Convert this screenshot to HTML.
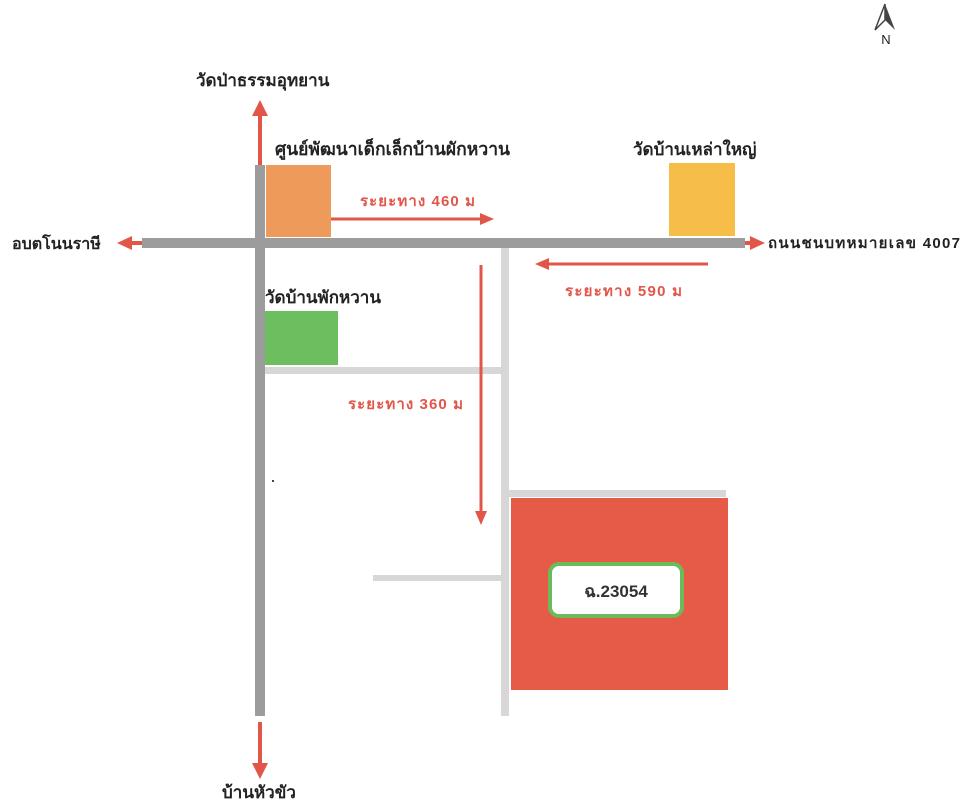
<!DOCTYPE html>
<html><head><meta charset="utf-8"><style>
html,body{margin:0;padding:0;background:#fff}
svg{display:block}
text{font-family:"Liberation Sans","DejaVu Sans",sans-serif}
</style></head><body>
<svg width="961" height="800" viewBox="0 0 961 800" xmlns="http://www.w3.org/2000/svg">
<rect x="501" y="248" width="8" height="468" fill="#d7d7d7"/>
<rect x="265" y="367" width="236" height="7" fill="#d7d7d7"/>
<rect x="509" y="490" width="217" height="7" fill="#d7d7d7"/>
<rect x="373" y="575" width="128" height="6" fill="#d7d7d7"/>
<rect x="142" y="238" width="603" height="10" fill="#9c9c9c"/>
<rect x="255" y="165" width="10" height="551" fill="#9c9c9c"/>
<rect x="266" y="165" width="65" height="72" fill="#ee9a5b"/>
<rect x="669" y="163" width="66" height="73" fill="#f6bd48"/>
<rect x="265" y="311" width="73" height="54" fill="#6dbe5e"/>
<rect x="511" y="498" width="217" height="192" fill="#e65a48"/>
<rect x="550" y="564" width="132" height="52" rx="9" fill="#fff" stroke="#6cbb58" stroke-width="4"/>
<text x="616" y="597" font-size="17" font-weight="bold" text-anchor="middle" fill="#333">ฉ.23054</text>
<g fill="#e2564a" stroke="#e2564a">
<line x1="260" y1="165" x2="260" y2="114" stroke-width="4"/>
<polygon points="252,116 268,116 260,100" stroke="none"/>
<line x1="260" y1="722" x2="260" y2="765" stroke-width="4"/>
<polygon points="252,763 268,763 260,779" stroke="none"/>
<line x1="142" y1="243" x2="130" y2="243" stroke-width="4"/>
<polygon points="132,236 132,250 117,243" stroke="none"/>
<line x1="745" y1="243" x2="752" y2="243" stroke-width="4"/>
<polygon points="750,236 750,250 765,243" stroke="none"/>
<line x1="331" y1="219" x2="482" y2="219" stroke-width="3"/>
<polygon points="480,213 480,225 494,219" stroke="none"/>
<line x1="708" y1="264" x2="547" y2="264" stroke-width="3"/>
<polygon points="549,258 549,270 535,264" stroke="none"/>
<line x1="481" y1="265" x2="481" y2="513" stroke-width="3"/>
<polygon points="475,511 487,511 481,525" stroke="none"/>
</g>
<g font-weight="bold" fill="#222">
<text x="196" y="86" font-size="17">วัดป่าธรรมอุทยาน</text>
<text x="275" y="155" font-size="17.5" textLength="235">ศูนย์พัฒนาเด็กเล็กบ้านผักหวาน</text>
<text x="633" y="155" font-size="17">วัดบ้านเหล่าใหญ่</text>
<text x="12" y="249" font-size="16">อบตโนนราษี</text>
<text x="768" y="248" font-size="15" textLength="192">ถนนชนบทหมายเลข 4007</text>
<text x="265" y="303" font-size="17">วัดบ้านพักหวาน</text>
<text x="222" y="798" font-size="17">บ้านหัวขัว</text>
</g>
<g font-weight="bold" fill="#e2564a" font-size="15">
<text x="360" y="206" textLength="115">ระยะทาง 460 ม</text>
<text x="565" y="296" textLength="117">ระยะทาง 590 ม</text>
<text x="348" y="409" textLength="115">ระยะทาง 360 ม</text>
</g>
<polygon points="885,4 875,30 885,20" fill="none" stroke="#444" stroke-width="1.5"/>
<polygon points="885,4 895,30 885,20" fill="#444"/>
<text x="886" y="44" font-size="13" text-anchor="middle" fill="#222">N</text>
<rect x="272" y="480" width="2" height="2" fill="#444"/>
</svg>
</body></html>
